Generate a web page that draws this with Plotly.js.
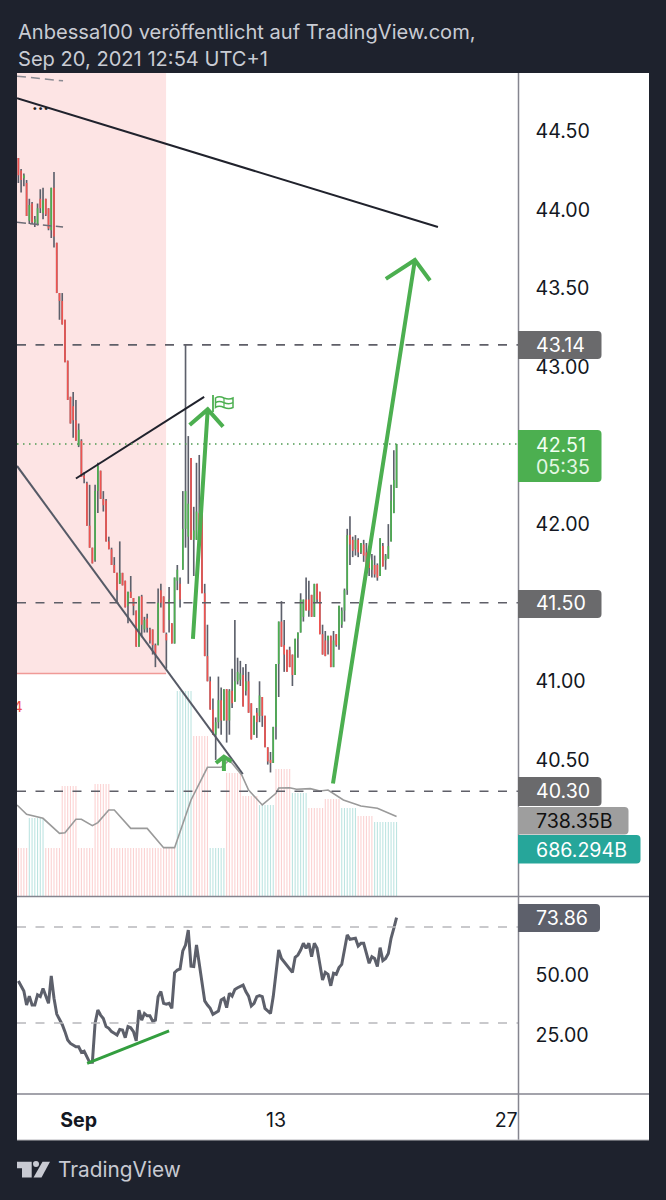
<!DOCTYPE html>
<html>
<head>
<meta charset="utf-8">
<script src="https://cdn.plot.ly/plotly-3.0.1.min.js"></script>
<style>html,body{margin:0;padding:0;background:#1e222d}#chart{width:666px;height:1200px}</style>
</head>
<body>
<div id="chart"></div>
<script>
// ---- 4H bars, first bar index -22, Sep 1 = index 0 ----
const FIRST_BAR = -22;
const highs = [
44.33,44.26,44.23,44.19,44.07,44.05,43.96,44.04,44.13,44.14,
44.07,44.01,44.14,44.24,43.79,43.47,43.47,43.30,43.04,42.81,
42.84,42.79,42.64,42.54,42.33,42.27,42.25,41.85,42.25,42.39,
42.34,42.21,42.16,41.92,41.85,41.79,41.69,41.89,41.69,41.64,
41.57,41.67,41.53,41.45,41.54,41.55,41.41,41.43,41.34,41.33,
41.24,41.59,41.62,41.54,41.31,41.60,41.37,41.66,41.74,41.66,
42.21,43.14,42.56,42.42,42.11,42.39,42.44,42.07,41.62,41.36,
41.03,40.89,40.77,41.03,40.96,40.95,40.95,40.95,41.08,41.39,
41.15,41.13,41.09,41.11,41.06,40.86,40.78,40.83,41.00,40.90,
40.78,40.58,40.55,40.71,41.11,41.38,41.51,41.39,41.20,41.22,
41.17,41.27,41.31,41.56,41.52,41.66,41.64,41.55,41.62,41.62,
41.57,41.36,41.32,41.29,41.29,41.32,41.30,41.48,41.47,41.59,
41.97,42.05,41.92,41.93,41.91,41.88,41.90,41.88,41.82,41.81,
41.80,41.75,41.91,41.88,41.81,42.00,42.25,42.47,42.51];
const lows = [
44.17,44.11,44.15,43.96,43.91,43.91,43.89,43.90,43.98,43.94,
43.96,43.87,43.82,43.76,43.47,43.30,43.27,43.03,42.79,42.64,
42.55,42.53,42.49,42.30,42.26,41.99,41.85,41.75,41.76,42.07,
42.16,42.08,41.89,41.84,41.74,41.69,41.50,41.62,41.61,41.47,
41.37,41.53,41.42,41.22,41.22,41.28,41.31,41.31,41.24,41.17,
41.09,41.23,41.47,41.31,41.08,41.31,41.24,41.24,41.58,41.47,
41.71,41.85,41.62,41.90,41.67,41.90,41.90,41.56,41.16,41.00,
40.82,40.66,40.50,40.70,40.66,40.75,40.61,40.66,40.83,40.87,
40.98,40.97,40.84,40.91,40.80,40.63,40.66,40.64,40.74,40.71,
40.58,40.47,40.42,40.48,40.63,40.90,41.22,41.06,41.06,41.09,
40.97,41.04,41.15,41.31,41.38,41.45,41.41,41.41,41.41,41.50,
41.30,41.17,41.16,41.17,41.09,41.09,41.22,41.20,41.34,41.38,
41.55,41.74,41.79,41.80,41.79,41.81,41.76,41.71,41.67,41.66,
41.66,41.64,41.67,41.73,41.71,41.78,41.89,42.07,42.23];
const opens = [
44.33,44.25,44.20,44.17,43.93,44.04,43.92,43.91,44.07,43.98,
44.07,44.01,43.87,44.14,43.79,43.47,43.42,43.30,43.04,42.81,
42.75,42.66,42.50,42.53,42.31,42.26,41.99,41.85,41.77,42.21,
42.34,42.16,42.15,41.89,41.84,41.74,41.69,41.62,41.69,41.64,
41.48,41.57,41.53,41.45,41.22,41.54,41.33,41.40,41.33,41.33,
41.23,41.23,41.58,41.54,41.30,41.39,41.37,41.24,41.64,41.62,
41.71,41.97,41.92,42.42,41.90,41.90,42.07,42.07,41.56,41.16,
41.00,40.82,40.66,40.74,40.88,40.75,40.95,40.75,40.94,40.87,
41.00,41.01,41.04,40.94,41.00,40.86,40.66,40.80,40.78,40.90,
40.78,40.58,40.50,40.48,40.71,41.11,41.38,41.23,41.20,41.20,
41.17,41.04,41.27,41.31,41.41,41.52,41.52,41.55,41.41,41.62,
41.57,41.30,41.26,41.26,41.29,41.09,41.30,41.23,41.36,41.45,
41.58,41.93,41.90,41.84,41.90,41.82,41.87,41.82,41.82,41.71,
41.74,41.74,41.67,41.86,41.77,41.78,41.89,42.07,42.23];
const closes = [
44.22,44.19,44.22,43.96,44.03,43.92,43.94,44.01,44.01,44.06,
43.97,43.88,44.14,43.83,43.47,43.42,43.27,43.03,42.79,42.64,
42.66,42.53,42.60,42.30,42.29,41.99,41.85,41.75,42.21,42.37,
42.16,42.12,41.89,41.84,41.74,41.69,41.58,41.69,41.61,41.47,
41.57,41.53,41.48,41.22,41.54,41.36,41.39,41.34,41.26,41.23,
41.17,41.50,41.50,41.31,41.26,41.52,41.24,41.66,41.71,41.52,
41.97,42.21,42.13,41.90,41.96,42.08,41.90,41.56,41.16,41.00,
40.82,40.66,40.74,40.88,40.75,40.95,40.75,40.94,40.86,41.00,
41.06,41.05,40.84,41.00,40.80,40.63,40.78,40.74,40.91,40.78,
40.58,40.49,40.48,40.71,41.11,41.38,41.22,41.17,41.06,41.09,
41.04,41.27,41.31,41.52,41.52,41.45,41.45,41.41,41.62,41.52,
41.30,41.17,41.16,41.29,41.09,41.26,41.23,41.48,41.45,41.58,
41.93,41.87,41.83,41.90,41.82,41.88,41.80,41.71,41.72,41.77,
41.68,41.66,41.91,41.73,41.80,41.86,42.15,42.28,42.51];
const rsi = [
47.5,45.1,43.3,37.5,41.2,37.5,37.5,41.7,41.0,44.4,
41.7,38.2,49.6,40.3,33.7,31.7,29.4,26.4,22.9,21.5,
20.8,20.1,20.1,17.8,18.3,16.0,13.6,13.6,29.9,35.4,
33.3,31.9,28.5,27.8,26.4,25.7,25.0,27.3,27.1,23.9,
28.5,28.0,26.4,22.6,35.4,31.2,34.0,33.0,33.0,30.8,
31.2,41.0,43.1,38.2,37.8,38.2,36.1,51.0,52.1,52.5,
60.0,62.5,68.7,53.7,53.5,62.5,54.9,45.8,39.2,37.5,
36.1,33.6,34.3,35.0,39.6,40.3,36.4,42.4,41.2,44.0,
44.7,45.1,45.8,43.1,41.2,37.1,38.2,41.0,41.4,41.0,
36.1,35.0,34.0,41.0,50.7,60.4,56.9,55.5,54.2,52.8,
51.1,57.4,58.3,60.4,63.2,61.1,63.2,57.6,63.2,61.1,
54.9,47.9,51.1,50.3,45.5,50.7,50.3,53.1,54.4,61.1,
66.7,64.9,65.0,65.3,62.1,63.2,63.2,59.0,54.9,57.6,
56.9,53.5,61.4,56.0,56.9,59.0,65.3,69.4,73.86];

// ---- daily volume (billions), day -4 .. day 19 ----
const FIRST_DAY = -4;
const dayVolumes = [445,723,445,1020,445,1038,445,445,445,445,1900,1483,445,1140,927,843,1177,955,816,899,816,742,686,686];
const dayUp      = [0,1,0,0,0,0,0,0,0,0,1,0,1,0,0,1,0,1,0,0,1,0,1,1];
const volMaX = [-22.5,-19,-13,-7,-5,-1,1,5,7,11,13,19,25,31,35,41,47,52,55,59.5,62,67,72,73,77,79.5,84.5,88,91,96.6,103,109,116];
const volMaY = [844,757,720,581,587,711,711,652,680,797,797,627,627,448,448,890,1193,1193,1261,1122,983,844,952,1001,1004,989,995,973,983,890,834,813,738];

// ---- axes labels ----
const priceTicks = [44.5,44,43.5,43,42,41,40.5];
const priceTickText = ['44.50','44.00','43.50','43.00','42.00','41.00','40.50'];
const rsiTicks = [50,25];
const rsiTickText = ['50.00','25.00'];
const timeTicks = [0,72,156];
const timeTickText = ['<b>Sep</b>','13','27'];

// ---- horizontal levels & drawings (bar index / price) ----
const levels = [43.14,41.50,40.30];
const lastPrice = 42.51;
const rsiLevels = [70,30];
const topLine = {x:[-22.5,131.1], y:[44.71,43.89]};
const wedgeTop = {x:[-1,45.8], y:[42.29,42.81]};
const wedgeLow = {x:[-22.5,59.9], y:[42.37,40.41]};
const stubA = {x:[-22.5,-5.7], y:[44.85,44.82]};
const stubB = {x:[-22.5,-5.7], y:[43.92,43.89]};
const arrowA = {x:[41.7,47.1,40.5,47.1,52.7], y:[41.27,42.73,42.63,42.73,42.62]};
const arrowB = {x:[92.8,122.7,112.1,122.7,128.2], y:[40.35,43.68,43.56,43.68,43.55]};
const arrowC = {x:[53,53,50.1,53,55.8], y:[40.43,40.52,40.48,40.52,40.49]};
const rsiTrend = {x:[3.1,33], y:[13.2,26.7]};
const zone = {x1:31.9, y0:41.05};
const clippedNote = {x:[-22.2], y:[40.83], text:['4']};

const XR = [-22.5,160.5], YP = [39.634,44.87], YV = [0,7629], YR = [0.42,82.5];
const bars = highs.map((_,k)=>k+FIRST_BAR);
const RED='#ef5350', GREEN='#4caf50', WICK='#5d606b';
const bodyCol = bars.map((_,k)=>closes[k]>=opens[k]?GREEN:RED);
const dayIdx = i=>Math.floor(i/6)-FIRST_DAY;
const volumes = bars.map(i=>dayVolumes[dayIdx(i)]);
const volCol = bars.map(i=>dayUp[dayIdx(i)]?'rgba(38,166,154,0.30)':'rgba(239,83,80,0.26)');

const lineTrace=(d,col,w,ya)=>({type:'scatter',mode:'lines',x:d.x,y:d.y,xaxis:'x',yaxis:ya||'y',
  line:{color:col,width:w},hoverinfo:'skip',showlegend:false});

const F='Inter, "Noto Sans", sans-serif';
const traces = [
 {type:'bar',x:bars,y:volumes,yaxis:'y2',width:0.4,marker:{color:volCol,line:{width:0}}},
 {type:'scatter',mode:'lines',x:volMaX,y:volMaY,yaxis:'y2',line:{color:'#9a9a9a',width:1.6}},
 {type:'bar',x:bars,base:lows,y:bars.map((_,k)=>highs[k]-lows[k]),yaxis:'y',width:0.6,marker:{color:WICK,line:{width:0}}},
 {type:'bar',x:bars,base:bars.map((_,k)=>Math.min(opens[k],closes[k])),y:bars.map((_,k)=>Math.abs(closes[k]-opens[k])),yaxis:'y',width:0.6,marker:{color:bodyCol,line:{width:0}}},
 lineTrace(wedgeLow,'#565a66',2),
 lineTrace(topLine,'#20222c',2),
 lineTrace(wedgeTop,'#20222c',2),
 lineTrace(arrowA,GREEN,4),
 lineTrace(arrowB,GREEN,4),
 lineTrace(arrowC,GREEN,4),
 {type:'scatter',mode:'lines',x:bars,y:rsi,yaxis:'y3',line:{color:'#5d606b',width:3}},
 lineTrace(rsiTrend,'#339e3f',3,'y3'),
 {type:'scatter',mode:'text',x:clippedNote.x,y:clippedNote.y,text:clippedNote.text,textposition:'middle center',cliponaxis:true,
  textfont:{family:F,size:15,color:'#ef5350'},yaxis:'y'}
];

// pixel-placed page furniture
const pathPx = s=>s.replace(/(-?[\d.]+),(-?[\d.]+)/g,(m,a,b)=>(a/666)+','+(1-b/1200));
const deco=(path,fill,line)=>({type:'path',xref:'paper',yref:'paper',path:pathPx(path),fillcolor:fill||'rgba(0,0,0,0)',
  line:line?{color:line.c,width:line.w}:{width:0},layer:'above'});
const tag=(x0,y0,x1,y1,fill)=>{const r=4;return deco(`M${x0},${y0} L${x1-r},${y0} Q${x1},${y0} ${x1},${y0+r} L${x1},${y1-r} Q${x1},${y1} ${x1-r},${y1} L${x0},${y1} Z`,fill);};
const seg=(x0,y0,x1,y1,col,w,below)=>({type:'line',xref:'paper',yref:'paper',x0:x0/666,x1:x1/666,y0:1-y0/1200,y1:1-y1/1200,
  line:{color:col,width:w},layer:below?'below':'above'});

const shapes = [
 {type:'rect',xref:'paper',yref:'paper',x0:17/666,x1:649/666,y0:1-73/1200,y1:1-1140/1200,fillcolor:'#ffffff',line:{width:0},layer:'below'},
 {type:'rect',xref:'x',yref:'y',x0:XR[0],x1:zone.x1,y0:zone.y0,y1:YP[1],fillcolor:'#fde4e4',line:{width:0},layer:'below'},
 {type:'line',xref:'x',yref:'y',x0:XR[0],x1:zone.x1,y0:zone.y0,y1:zone.y0,line:{color:'#f09a97',width:1.5},layer:'below'},
 {type:'line',xref:'x',yref:'y',x0:stubA.x[0],x1:stubA.x[1],y0:stubA.y[0],y1:stubA.y[1],line:{color:'#8a8a92',width:1.5,dash:'9px,5px'}},
 {type:'line',xref:'x',yref:'y',x0:stubB.x[0],x1:stubB.x[1],y0:stubB.y[0],y1:stubB.y[1],line:{color:'#6d6d76',width:1.5,dash:'9px,4px'}},
 {type:'line',xref:'x',yref:'y',x0:XR[0],x1:XR[1],y0:lastPrice,y1:lastPrice,line:{color:'#4d9a52',width:1.5,dash:'1.5px,4.5px'}},
 ...levels.map(v=>({type:'line',xref:'x',yref:'y',x0:XR[0],x1:XR[1],y0:v,y1:v,line:{color:'#5f5f68',width:1.6,dash:'9px,9.5px'}})),
 ...rsiLevels.map(v=>({type:'line',xref:'x',yref:'y3',x0:XR[0],x1:XR[1],y0:v,y1:v,line:{color:'#b8b8bc',width:1.6,dash:'9px,9.5px'}})),
 seg(17,896.5,649,896.5,'#85858f',1.5),
 seg(17,1094,649,1094,'#85858f',1.5),
 seg(518.5,73,518.5,1140,'#85858f',1.5),
 seg(17,1140,649,1140,'#b5b5ba',1),
 tag(518,331,601.5,359,'#6a6a6c'),
 tag(518,430,601.5,482,'#4caf50'),
 tag(518,590,601.5,618,'#6a6a6c'),
 tag(518,777,601.5,806,'#6a6a6c'),
 tag(518,807,628.5,834.5,'#9e9e9e'),
 tag(518,835,640.5,863.5,'#26a69a'),
 tag(518,904,600,932,'#5d606b'),
 // flag
 deco('M213,395 L213,412',null,{c:'#4caf50',w:1.8}),
 deco('M215.5,398 Q219,395.5 224,398 Q229,400 233,398 L233,407.5 Q229,409.5 224,407.5 Q219,405 215.5,407.5 Z',null,{c:'#4caf50',w:1.5}),
 deco('M215.5,402.7 Q219,400.2 224,402.7 Q229,404.7 233,402.7',null,{c:'#4caf50',w:1.5}),
 deco('M224,398 L224,407.5',null,{c:'#4caf50',w:1.2}),
 // TradingView logo
 deco('M17,1161.7 L31.7,1161.7 L31.7,1177.5 L22,1177.5 L22,1168.3 L17,1168.3 Z','#c8cad2'),
 deco('M33,1163.5 Q33,1161 36,1161 Q39,1161 39,1164 Q39,1167 36,1167 Q33,1167 33,1163.5 Z','#c8cad2'),
 deco('M42.5,1161.7 L50,1161.7 L41.5,1177.5 L33.5,1177.5 Z','#c8cad2')
];

const note=(text,xPx,y,yref,col,size,extra)=>Object.assign({text:text,x:xPx/666,xref:'paper',y:y,yref:yref,xanchor:'left',yanchor:'middle',
  showarrow:false,font:{family:F,size:size,color:col},borderpad:0},extra||{});
const pY=y=>1-y/1200;
const TAG=19.6;
const annotations=[
 note('Anbessa100 veröffentlicht auf TradingView.com,',17,pY(32),'paper','#c9ccd4',20.1),
 note('Sep 20, 2021 12:54 UTC+1',17,pY(59),'paper','#c9ccd4',20.1),
 note('TradingView',57,pY(1169),'paper','#c8cad2',20.8),
 note('43.14',535,43.14,'y','#ffffff',TAG),
 note('42.51',535,pY(445),'paper','#f2fff2',TAG),
 note('05:35',535,pY(467),'paper','#e4f7e4',TAG),
 note('41.50',535,41.50,'y','#ffffff',TAG),
 note('40.30',535,40.30,'y','#ffffff',TAG),
 note('738.35B',535,pY(821),'paper','#111111',TAG),
 note('686.294B',535,pY(849.5),'paper','#ffffff',TAG),
 note('73.86',535,73.86,'y3','#ffffff',TAG),
 note('...',31,pY(104),'paper','#222222',16,{font:{family:F,size:17,color:'#222',weight:700}})
];

const yBase={showgrid:false,zeroline:false,showline:false,ticks:'',fixedrange:true};
const tickF={family:F,size:TAG,color:'#131722'};
const layout={
 width:666,height:1200,margin:{l:0,r:0,t:0,b:0},autosize:false,showlegend:false,
 paper_bgcolor:'#1e222d',plot_bgcolor:'rgba(0,0,0,0)',barmode:'overlay',hovermode:false,
 font:{family:F,color:'#131722'},
 xaxis:{domain:[17/666,518.5/666],range:XR,anchor:'y3',showgrid:false,zeroline:false,showline:false,ticks:'',
   tickmode:'array',tickvals:timeTicks,ticktext:timeTickText,tickfont:tickF,ticklabelstandoff:12},
 yaxis:Object.assign({},yBase,{domain:[pY(896),pY(73)],range:YP,side:'right',anchor:'x',overlaying:'y2',
   tickmode:'array',tickvals:priceTicks,ticktext:priceTickText,tickfont:tickF,ticklabelstandoff:16}),
 yaxis2:Object.assign({},yBase,{domain:[pY(896),pY(73)],range:YV,anchor:'x',side:'right',showticklabels:false}),
 yaxis3:Object.assign({},yBase,{domain:[pY(1094),pY(897)],range:YR,side:'right',anchor:'x',
   tickmode:'array',tickvals:rsiTicks,ticktext:rsiTickText,tickfont:tickF,ticklabelstandoff:16}),
 shapes:shapes,annotations:annotations
};
Plotly.newPlot('chart',traces,layout,{staticPlot:true,displayModeBar:false});
</script>
</body>
</html>
